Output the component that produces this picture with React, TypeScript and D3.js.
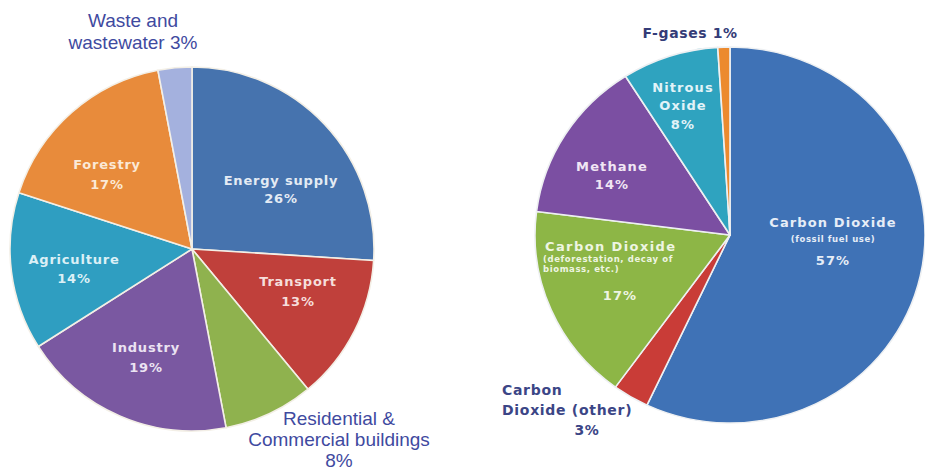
import React from "react";
import * as d3 from "d3";

// ---------- data ----------
const sectorNames = ["Energy supply", "Transport", "Residential & Commercial buildings", "Industry", "Agriculture", "Forestry", "Waste and wastewater"];
const sectorValues = [26, 13, 8, 19, 14, 17, 3];
const sectorColors = ["#4673ae", "#c0403b", "#8fb24e", "#7a58a1", "#2f9ec1", "#e88b3b", "#a4b1de"];

const gasNames = ["Carbon Dioxide (fossil fuel use)", "Carbon Dioxide (other)", "Carbon Dioxide (deforestation, decay of biomass, etc.)", "Methane", "Nitrous Oxide", "F-gases"];
const gasValues = [57, 3, 17, 14, 8, 1];
const gasColors = ["#3f72b6", "#c93c37", "#8db646", "#7b4fa2", "#2fa3bf", "#ec8a2e"];

// ---------- label layout (relative to pie centre) ----------
type Line = { t: string; dx: number; dy: number; size: number; anchor?: string; ls?: number };
const sectorLabels: { lines: Line[]; fill: string; weight: string; family: string }[] = [
  { lines: [{ t: "Energy supply", dx: 89, dy: -64, size: 13 }, { t: "26%", dx: 89, dy: -46, size: 13 }], fill: "#e4ebf4", weight: "bold", family: "DejaVu Sans" },
  { lines: [{ t: "Transport", dx: 106, dy: 37, size: 13 }, { t: "13%", dx: 106, dy: 57, size: 13 }], fill: "#f6dedb", weight: "bold", family: "DejaVu Sans" },
  { lines: [{ t: "Residential &", dx: 147, dy: 176, size: 19, ls: 0 }, { t: "Commercial buildings", dx: 147, dy: 197, size: 19, ls: 0 }, { t: "8%", dx: 147, dy: 218, size: 19, ls: 0 }], fill: "#3f4aa0", weight: "normal", family: "Liberation Sans" },
  { lines: [{ t: "Industry", dx: -46, dy: 103, size: 13 }, { t: "19%", dx: -46, dy: 123, size: 13 }], fill: "#ebe3f2", weight: "bold", family: "DejaVu Sans" },
  { lines: [{ t: "Agriculture", dx: -118, dy: 15, size: 13 }, { t: "14%", dx: -118, dy: 34, size: 13 }], fill: "#dcf0f6", weight: "bold", family: "DejaVu Sans" },
  { lines: [{ t: "Forestry", dx: -85, dy: -80, size: 13 }, { t: "17%", dx: -85, dy: -60, size: 13 }], fill: "#fbe9d6", weight: "bold", family: "DejaVu Sans" },
  { lines: [{ t: "Waste and", dx: -59, dy: -222, size: 19, ls: 0 }, { t: "wastewater 3%", dx: -59, dy: -200, size: 19, ls: 0 }], fill: "#3f4aa0", weight: "normal", family: "Liberation Sans" },
];

const gasLabels: { lines: Line[]; fill: string }[] = [
  { lines: [{ t: "Carbon Dioxide", dx: 103, dy: -8, size: 13 }, { t: "(fossil fuel use)", dx: 103, dy: 7, size: 8.5, ls: 0.6 }, { t: "57%", dx: 103, dy: 30, size: 13 }], fill: "#e6edf7" },
  { lines: [{ t: "Carbon", dx: -228, dy: 160, size: 14, anchor: "start", ls: 0.7 }, { t: "Dioxide (other)", dx: -228, dy: 180, size: 14, anchor: "start", ls: 0.7 }, { t: "3%", dx: -143, dy: 200, size: 14, ls: 0.7 }], fill: "#3b4586" },
  { lines: [{ t: "Carbon Dioxide", dx: -185, dy: 16, size: 13, anchor: "start", ls: 1.4 }, { t: "(deforestation, decay of", dx: -187, dy: 27, size: 8.5, anchor: "start", ls: 0.6 }, { t: "biomass, etc.)", dx: -187, dy: 37, size: 8.5, anchor: "start", ls: 0.6 }, { t: "17%", dx: -110, dy: 65, size: 13 }], fill: "#eef5e2" },
  { lines: [{ t: "Methane", dx: -118, dy: -64, size: 13 }, { t: "14%", dx: -118, dy: -46, size: 13 }], fill: "#f1e6f4" },
  { lines: [{ t: "Nitrous", dx: -47, dy: -143, size: 13 }, { t: "Oxide", dx: -47, dy: -125, size: 13 }, { t: "8%", dx: -47, dy: -106, size: 13 }], fill: "#e2f3f8" },
  { lines: [{ t: "F-gases 1%", dx: -40, dy: -197, size: 14, ls: 0.6 }], fill: "#343c78" },
];

// ---------- geometry ----------
const W = 925, H = 470;
const L = { cx: 192, cy: 249, r: 182 };
const R = { cx: 730, cy: 235, rx: 195, ry: 188 };

export default function App() {
  const pie = d3.pie<number>().sort(null).value((d) => d);
  const leftArcs = pie(sectorValues);
  const rightArcs = pie(gasValues);
  const arcL = d3.arc<d3.PieArcDatum<number>>().innerRadius(0).outerRadius(L.r);
  const arcR = d3.arc<d3.PieArcDatum<number>>().innerRadius(0).outerRadius(R.rx);

  return (
    <svg width={W} height={H} style={{ position: "absolute", left: 0, top: 0, background: "#fff" }}>
      <g transform={`translate(${L.cx},${L.cy})`}>
        {leftArcs.map((a, i) => (
          <path key={sectorNames[i]} d={arcL(a) || ""} fill={sectorColors[i]} stroke="#f3efe6" strokeWidth={1.6} strokeLinejoin="round" />
        ))}
        {sectorLabels.map((lab, i) => (
          <g key={"ll" + i}>
            {lab.lines.map((ln, j) => (
              <text key={j} x={ln.dx} y={ln.dy} textAnchor={ln.anchor || "middle"} fontFamily={lab.family} fontWeight={lab.weight} fontSize={ln.size} fill={lab.fill} letterSpacing={ln.ls ?? 0.8}>
                {ln.t}
              </text>
            ))}
          </g>
        ))}
      </g>
      <g transform={`translate(${R.cx},${R.cy})`}>
        <g transform={`scale(1,${R.ry / R.rx})`}>
          {rightArcs.map((a, i) => (
            <path key={gasNames[i]} d={arcR(a) || ""} fill={gasColors[i]} stroke="#eef0f2" strokeWidth={1.6} strokeLinejoin="round" />
          ))}
        </g>
        {gasLabels.map((lab, i) => (
          <g key={"rl" + i}>
            {lab.lines.map((ln, j) => (
              <text key={j} x={ln.dx} y={ln.dy} textAnchor={ln.anchor || "middle"} fontFamily="DejaVu Sans" fontWeight="bold" fontSize={ln.size} fill={lab.fill} letterSpacing={ln.ls ?? 1.1}>
                {ln.t}
              </text>
            ))}
          </g>
        ))}
      </g>
    </svg>
  );
}
